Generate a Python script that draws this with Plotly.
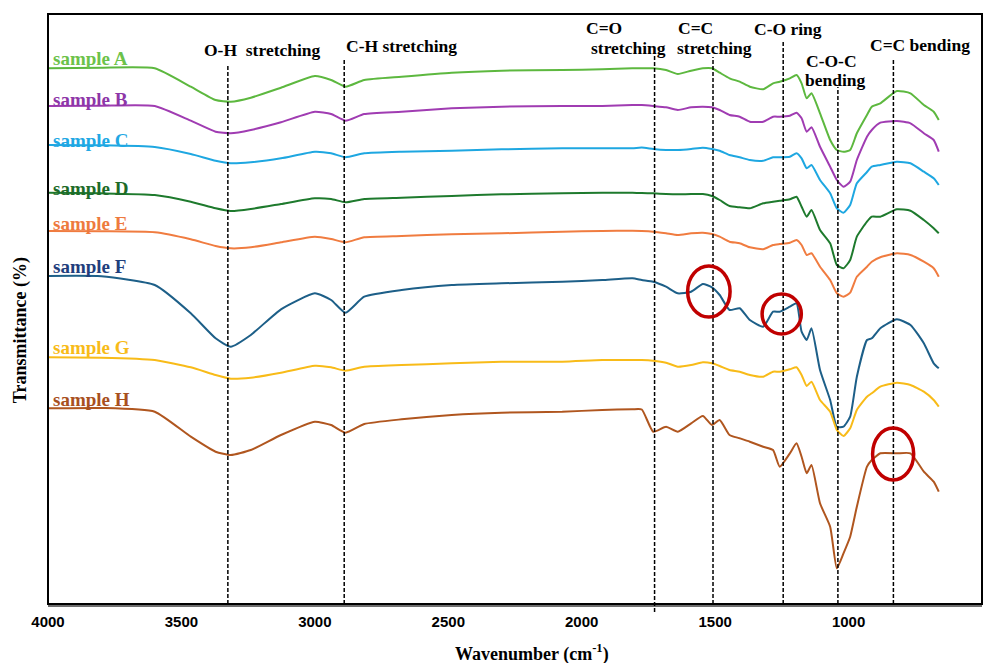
import plotly.graph_objects as go

# Wavenumber grid (cm-1) shared by all spectra
wavenumber = [4000, 3800, 3600, 3465, 3372, 3315, 3240, 3127, 3000, 2939, 2885, 2815,
              2675, 2487, 2300, 2073, 1923, 1810, 1775, 1732, 1684, 1640, 1590, 1546,
              1512, 1483, 1446, 1408, 1370, 1320, 1283, 1258, 1220, 1195, 1176, 1157,
              1139, 1107, 1069, 1044, 1019, 994, 969, 931, 913, 881, 819, 768, 718,
              681, 662]

# Offset transmittance (arbitrary units, spectra stacked vertically)
sample_a = [535.7, 536.3, 535.7, 517.3, 504, 502.3, 506.3, 516.3, 528, 524, 517.3, 524,
            527.3, 531.3, 533.3, 534, 534.7, 535.7, 535.7, 535.7, 534, 530, 533.3, 535.7,
            535.7, 531.3, 525.7, 522.3, 517.3, 514.7, 520.7, 522.3, 525.7, 529, 520.7, 505.7,
            510.7, 490.7, 464, 454, 452.3, 454, 470.7, 489, 497.3, 500.7, 513, 510.7, 499,
            492.3, 484]
sample_b = [498, 498.3, 498, 483.3, 472.3, 470.7, 474, 481.7, 492.3, 490, 483.3, 490,
            492.3, 495.7, 497.3, 498, 498, 499, 499, 498, 496.7, 494, 496.7, 497.3,
            496.7, 494, 489, 487.3, 482.3, 482.3, 487.3, 487.3, 488.3, 491.3, 485.7, 472.3,
            476.7, 457.3, 437.3, 424, 417.3, 422.3, 444, 467.3, 474, 481.3, 483, 480.7, 470.7,
            464, 452.3]
sample_c = [459, 458.7, 457, 450, 443.3, 440.7, 441.7, 445.7, 452.3, 450.7, 446.7, 450.7,
            452.3, 453.3, 454.7, 455.7, 455.7, 455.7, 456.5, 455, 454, 454, 455, 456.3,
            455, 453.3, 449, 446.7, 444, 443.3, 446.7, 446.7, 447.3, 450.7, 445.7, 435.7,
            439, 424, 410.7, 395.7, 391.3, 399, 420.7, 432, 437.3, 439, 442.3, 440.7, 432.3,
            425.7, 419]
sample_d = [411.3, 410.7, 409, 402.3, 395.7, 393, 395, 400, 405.7, 405, 401.7, 405,
            406.3, 408, 409.7, 410.7, 411.3, 411.3, 411, 410.7, 410, 409.7, 410, 410,
            408, 404, 398, 396.7, 395.7, 400.7, 402.3, 403.3, 404.7, 407.3, 397.3, 387.3,
            394, 374, 360.7, 339, 335.7, 344, 367.3, 382.3, 387.3, 387.3, 394.7, 393.3, 384,
            375.7, 370.7]
sample_e = [373, 372.7, 371.7, 364.7, 358, 355.7, 356.7, 361.7, 367.3, 365, 361.7, 366.7,
            368, 369.7, 370.7, 372.3, 373, 373.3, 373, 372.3, 370.7, 369, 370.7, 371.3,
            370, 367.3, 362.3, 360.7, 356.7, 354.7, 359, 360, 361.3, 364, 359, 349,
            350.7, 337.3, 324, 310.7, 307.3, 311.3, 327.3, 337.3, 342.3, 346.7, 350.7, 349, 342.3,
            335.7, 327.3]
sample_f = [328, 327.7, 319, 290.7, 265.7, 257.3, 269, 294.7, 310.7, 304, 291.3, 307.3,
            314, 319, 320.7, 322.3, 324, 325.7, 324, 322.3, 317.3, 310.7, 312.3, 320,
            316.7, 309, 294, 295.7, 284, 277.3, 292.3, 292.3, 297.3, 300.7, 272.3, 264,
            275.7, 234, 204, 177.3, 177.3, 187.3, 227.3, 264, 265.7, 275.7, 284.7, 279, 260.7,
            240.7, 235.7]
sample_g = [246.7, 246.3, 244, 236.7, 229, 225.3, 226.3, 231.3, 238.3, 236.7, 233.3, 237.3,
            239, 240.7, 242.3, 242.3, 244, 244, 244, 243.3, 241.3, 237.3, 239, 241.7,
            240.7, 238, 234, 232.3, 229, 227.3, 232.3, 232.3, 234.7, 236.7, 229, 218,
            222.3, 204, 192.3, 174, 168, 175.7, 194, 207.3, 210.7, 217.3, 221.3, 219, 212.3,
            204, 197.3]
sample_h = [195.7, 196, 192.3, 167.3, 152.3, 149, 154, 169, 182.3, 179, 171.3, 180,
            184.7, 189, 191.3, 192.3, 194, 194.7, 194.5, 172.3, 177.3, 172.3, 180.7, 188,
            179, 184, 169, 165.7, 162.3, 157.3, 154, 137.3, 150.7, 160.7, 147.3, 130.7,
            139, 100.7, 77.3, 35.7, 50.7, 67.3, 97.3, 137.3, 144, 150.7, 150.7, 150.7, 132.3,
            122.3, 112.3]

sample_names = ["sample A", "sample B", "sample C", "sample D",
                "sample E", "sample F", "sample G", "sample H"]
line_colors = ["#5DB83F", "#A03CB2", "#1EA7E1", "#1E7A2D",
               "#F07C40", "#1D5F88", "#F8BB18", "#B0561F"]
label_colors = ["#6CC24A", "#8E36A8", "#1FA8E4", "#1D6B29",
                "#EE7A3E", "#1F3E7C", "#F8BB18", "#A8501E"]
label_heights = [546, 505, 464, 416, 381, 338, 257, 205]
spectra = [sample_a, sample_b, sample_c, sample_d,
           sample_e, sample_f, sample_g, sample_h]

# Band assignments: dashed marker positions and their label lines
band_lines = [3326, 2890, 1727, 1508, 1245, 1040, 832]
band_line_tops = [539, 544, 549, 547, 564, 517, 546]
band_line_bottoms = [0, 0, -8, 0, 0, 0, 0]
band_labels = [("O-H  stretching", 3198, 554), ("C-H stretching", 2675, 558),
               ("C=O", 1915, 576), ("stretching", 1825, 556),
               ("C=C", 1572, 576), ("stretching", 1501, 556),
               ("C-O ring", 1226, 575), ("C-O-C", 1064, 543), ("bending", 1049, 524),
               ("C=C bending", 733, 559)]

# Highlighted features (wavenumber span, transmittance span)
highlight_regions = [(1603, 1444, 287, 338), (1324, 1177, 270, 310), (910, 756, 124, 176)]

serif = "Liberation Serif"
fig = go.Figure()

for name, vals, col in zip(sample_names, spectra, line_colors):
    fig.add_trace(go.Scatter(x=wavenumber, y=vals, mode="lines", name=name,
                             line=dict(color=col, width=2, shape="spline", smoothing=0.5),
                             showlegend=False, hoverinfo="x+y+name"))

for name, col, hgt in zip(sample_names, label_colors, label_heights):
    fig.add_annotation(x=3987, y=hgt, xref="x", yref="y", text=f"<b>{name}</b>",
                       showarrow=False, xanchor="left", yanchor="middle",
                       font=dict(family=serif, size=19, color=col))

for wn_pos, top, bottom in zip(band_lines, band_line_tops, band_line_bottoms):
    fig.add_shape(type="line", xref="x", yref="paper", x0=wn_pos, x1=wn_pos,
                  y0=bottom / 590, y1=top / 590,
                  line=dict(color="black", width=1.5, dash="4px,2px"))

for text, xc, yc in band_labels:
    fig.add_annotation(x=xc, y=yc, xref="x", yref="y", text=f"<b>{text}</b>",
                       showarrow=False, xanchor="center", yanchor="middle",
                       font=dict(family=serif, size=17.5, color="black"))

for x0, x1, y0, y1 in highlight_regions:
    fig.add_shape(type="circle", xref="x", yref="y", x0=x0, x1=x1, y0=y0, y1=y1,
                  line=dict(color="#C00000", width=3.5))

# Plot frame
fig.add_shape(type="rect", xref="paper", yref="paper", x0=0, x1=1, y0=0, y1=1,
              line=dict(color="black", width=2), layer="above")

fig.add_annotation(x=-0.030, y=0.464, xref="paper", yref="paper", textangle=-90,
                   text="<b>Transmittance (%)</b>", showarrow=False,
                   xanchor="center", yanchor="middle",
                   font=dict(family=serif, size=18, color="black"))
fig.add_annotation(x=0.518, y=-0.083, xref="paper", yref="paper",
                   text="<b>Wavenumber (cm<sup>-1</sup>)</b>", showarrow=False,
                   xanchor="center", yanchor="middle",
                   font=dict(family=serif, size=18, color="black"))

fig.update_layout(
    width=994, height=663,
    margin=dict(l=48, r=12, t=14, b=59),
    paper_bgcolor="white", plot_bgcolor="white",
    xaxis=dict(range=[4000, 500], tickvals=[4000, 3500, 3000, 2500, 2000, 1500, 1000, 500],
               showgrid=False, zeroline=False, showline=True, linecolor="#6e6e6e",
               linewidth=3, ticks="", ticklabelstandoff=2,
               tickfont=dict(family="Liberation Sans", size=15, color="black", weight="bold")),
    yaxis=dict(range=[0, 590], showgrid=False, zeroline=False, showticklabels=False,
               ticks="", showline=False),
)

fig.write_html("out.html")
